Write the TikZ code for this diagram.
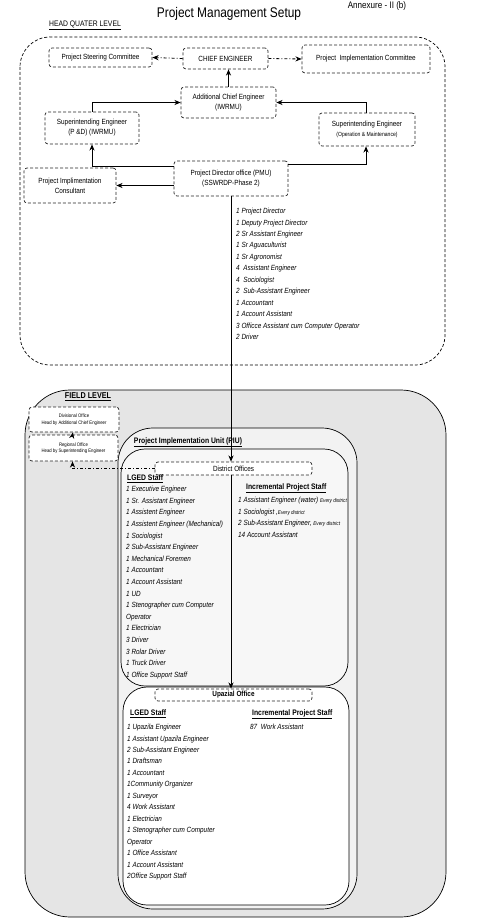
\documentclass[tikz,border=0pt]{standalone}
\usepackage{fontspec}
\setmainfont{Liberation Sans}[FakeStretch=0.85]
\usetikzlibrary{arrows.meta}

\begin{document}
\begin{tikzpicture}[
  x=1pt, y=-1pt,
  box/.style={rectangle, rounded corners=3pt, draw=black!85, densely dashed, line width=0.7pt, fill=white, align=center, inner sep=1pt, font=\fontsize{7.5}{10}\selectfont},
  tinybox/.style={box, font=\fontsize{5}{6.5}\selectfont},
  header/.style={anchor=west, inner sep=0pt, font=\fontsize{8}{9}\selectfont\bfseries},
  stafflist/.style={anchor=north west, align=left, inner sep=0pt, font=\fontsize{7.5}{11.5}\selectfont\itshape},
  arrow/.style={-{Stealth[length=2.2mm, width=1.8mm]}, line width=0.8pt},
  dotarrow/.style={arrow, dash pattern=on 3pt off 2pt on 1pt off 2pt}
]
\useasboundingbox (0,0) rectangle (490,923);

% level frames
\draw[densely dashed, line width=0.7pt, rounded corners=30pt] (20,37) rectangle (445,365);
\draw[line width=0.7pt, fill=black!10, rounded corners=45pt] (25,390) rectangle (446,917);
\draw[line width=0.7pt, fill=black!5, rounded corners=35pt] (118,428) rectangle (357,909);
\draw[line width=0.7pt, fill=black!3, rounded corners=24pt] (121,449) rectangle (348,686);
\draw[line width=0.7pt, fill=white, rounded corners=24pt] (123,687) rectangle (349,905);

% titles
\node[font=\fontsize{9.5}{10}\selectfont, anchor=base] (annex) at (377,9) {Annexure - II (b)};
\node[font=\fontsize{14}{16}\selectfont] (title) at (229,14) {Project Management Setup};
\node[font=\fontsize{8}{9}\selectfont] (hqlevel) at (85,25) {\underline{HEAD QUATER LEVEL}};
\node[font=\fontsize{8.5}{9}\selectfont\bfseries] (fieldlevel) at (88,397) {\underline{FIELD LEVEL}};
\node[font=\fontsize{8}{9}\selectfont\bfseries] (piu) at (188,442) {\underline{Project Implementation Unit (PIU)}};

% head quater level
\node[box, minimum width=103pt, minimum height=19pt] (steer) at (100.5,57.5) {Project Steering Committee};
\node[box, minimum width=85pt, minimum height=21pt] (chief) at (225.5,58.5) {CHIEF ENGINEER};
\node[box, minimum width=128pt, minimum height=28pt] (implcom) at (366,59) {Project\ \ Implementation Committee};
\node[box, minimum width=95pt, minimum height=31pt] (ace) at (228.5,102.5) {Additional Chief Engineer\\(IWRMU)};
\node[box, minimum width=94pt, minimum height=32pt] (sepd) at (92,128) {Superintending Engineer\\(P \&D) (IWRMU)};
\node[box, minimum width=96pt, minimum height=33pt] (seom) at (367,129.5) {Superintending Engineer\\{\fontsize{6}{7}\selectfont(Operation \& Maintenance)}};
\node[box, minimum width=114pt, minimum height=35pt] (pmu) at (231,178.5) {Project Director office (PMU)\\(SSWRDP-Phase 2)};
\node[box, minimum width=92pt, minimum height=35pt] (pic) at (70,185.5) {Project Implimentation\\Consultant};

\node[stafflist, font=\fontsize{7.5}{11.45}\selectfont\itshape] (pmustaff) at (236,208) {1 Project Director\\1 Deputy Project Director\\2 Sr Assistant Engineer\\1 Sr Aguaculturist\\1 Sr Agronomist\\4\ \ Assistant Engineer\\4\ \ Sociologist\\2\ \ Sub-Assistant Engineer\\1 Accountant\\1 Account Assistant\\3 Officce Assistant cum Computer Operator\\2 Driver};

\draw[arrow] (ace) -- (ace.north |- chief.south);
\draw[dotarrow] (chief.west) -- (steer.east);
\draw[dotarrow] (chief.east) -- (implcom.west);
\draw[arrow] (sepd.north) |- (ace.west);
\draw[arrow] ([xshift=-1pt]seom.north) |- (ace.east);
\draw[arrow] ([yshift=12.5pt]pmu.west) -| (sepd.south);
\draw[arrow] ([yshift=14pt]pmu.east) -| ([xshift=-1pt]seom.south);
\draw[arrow] (pmu.west |- pic.east) -- (pic.east);

% field level
\node[tinybox, minimum width=90pt, minimum height=25pt] (div) at (74,419.5) {Divisional Office\\Head by Additional Chief Engineer};
\node[tinybox, minimum width=89pt, minimum height=26pt] (reg) at (73.5,448) {Regional Office\\Head by Superintending Engineer};
\node[box, minimum width=157pt, minimum height=13pt] (dist) at (233.5,468.5) {District Offices};
\node[box, minimum width=157pt, minimum height=12pt, font=\fontsize{7.5}{9}\selectfont\bfseries] (upaz) at (233.5,695) {Upazial Office};

\node[header] (dlgedhead) at (127,479) {\underline{LGED Staff}};
\node[stafflist, font=\fontsize{7.5}{11.6}\selectfont\itshape] (dlged) at (126,486) {1 Executive Engineer\\1 Sr. Assistant Engineer\\1 Assistent Engineer\\1 Assistent Engineer (Mechanical)\\1 Sociologist\\2 Sub-Assistant Engineer\\1 Mechanical Foremen\\1 Accountant\\1 Account Assistant\\1 UD\\1 Stenographer cum Computer\\Operator\\1 Electrician\\3 Driver\\3 Rolar Driver\\1 Truck Driver\\1 Office Support Staff};
\node[header] (dinchead) at (246,488) {\underline{Incremental Project Staff}};
\node[stafflist, font=\fontsize{7.5}{11.6}\selectfont\itshape] (dinc) at (238,497) {1 Assistant Engineer (water) {\fontsize{5.5}{6}\selectfont Every district}\\1 Sociologist ,{\fontsize{5.5}{6}\selectfont Every district}\\2 Sub-Assistant Engineer, {\fontsize{5.5}{6}\selectfont Every district}\\14 Account Assistant};

\node[header] (ulgedhead) at (130,714) {\underline{LGED Staff}};
\node[stafflist, font=\fontsize{7.5}{11.45}\selectfont\itshape] (ulged) at (127,724) {1 Upazila Engineer\\1 Assistant Upazila Engineer\\2 Sub-Assistant Engineer\\1 Draftsman\\1 Accountant\\1Community Organizer\\1 Surveyor\\4 Work Assistant\\1 Electrician\\1 Stenographer cum Computer\\Operator\\1 Office Assistant\\1 Account Assistant\\2Office Support Staff};
\node[header] (uinchead) at (252,714) {\underline{Incremental Project Staff}};
\node[stafflist] (uinc) at (250,724) {87\ \ Work Assistant};

\draw[arrow] (pmu.south) -- (pmu.south |- dist.north);
\draw[arrow] (pmu.south |- dist.south) -- (pmu.south |- upaz.north);
\draw[dotarrow] (dist.west) -| ([xshift=-1pt]reg.south);
\draw[arrow] ([xshift=-1pt]reg.north) -- ([xshift=-1pt]div.south);
\end{tikzpicture}
\end{document}
